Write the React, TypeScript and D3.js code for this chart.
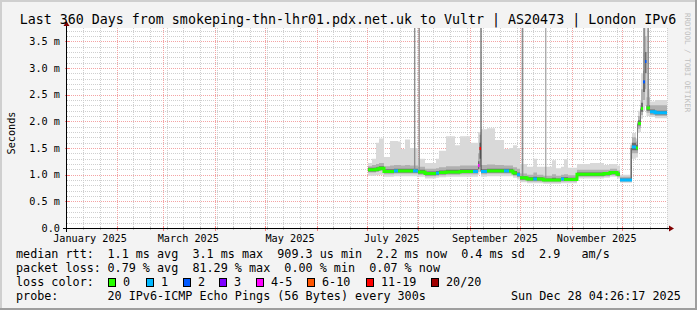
import React from "react";
import * as d3 from "d3";

const W = 697;
const H = 310;
const startTime = Date.UTC(2025, 0, 2, 4, 26, 17);
const endTime = Date.UTC(2025, 11, 28, 4, 26, 17);

const titleText = "Last 360 Days from smokeping-thn-lhr01.pdx.net.uk to Vultr | AS20473 | London IPv6";
const yAxisTitle = "Seconds";
const watermark = "RRDTOOL / TOBI OETIKER";

const yMajorTicks = [0, 0.5, 1.0, 1.5, 2.0, 2.5, 3.0, 3.5];
const yMax = 3.75;

// segment start times (UTC), value holds until next start
const segStart = [
  "2025-07-01T19:00", "2025-07-04T04:00", "2025-07-06T14:00", "2025-07-08T09:00", "2025-07-11T09:00",
  "2025-07-15T00:00", "2025-07-17T09:00", "2025-07-19T19:00", "2025-07-21T14:00", "2025-07-24T00:00",
  "2025-07-27T00:00", "2025-07-28T19:00", "2025-07-31T19:00", "2025-08-05T00:00", "2025-08-11T14:00",
  "2025-08-13T09:00", "2025-08-17T14:00", "2025-08-23T00:00", "2025-08-26T00:00", "2025-09-01T00:00",
  "2025-09-02T19:00", "2025-09-05T19:00", "2025-09-06T16:00", "2025-09-07T14:00", "2025-09-11T04:00",
  "2025-09-16T00:00", "2025-09-21T09:00", "2025-09-24T09:00", "2025-09-26T19:00", "2025-09-29T04:00",
  "2025-10-01T00:00", "2025-10-05T04:00", "2025-10-09T00:00", "2025-10-11T04:00", "2025-10-15T00:00",
  "2025-10-20T04:00", "2025-10-22T14:00", "2025-10-25T14:00", "2025-10-27T09:00", "2025-10-29T19:00",
  "2025-11-04T04:00", "2025-11-12T00:00", "2025-11-20T09:00", "2025-11-24T00:00", "2025-11-28T04:00",
  "2025-11-30T00:00", "2025-12-06T08:00", "2025-12-07T04:00", "2025-12-09T14:00", "2025-12-10T08:00",
  "2025-12-10T19:00", "2025-12-12T02:00", "2025-12-12T14:00", "2025-12-13T19:00", "2025-12-15T00:00",
  "2025-12-15T21:00", "2025-12-18T00:00", "2025-12-21T00:00",
];
// median rtt (ms)
const median = [
  1.09, 1.09, 1.10, 1.12, 1.06, 1.06, 1.07, 1.07, 1.07, 1.07,
  1.07, 1.07, 1.05, 1.02, 1.03, 1.04, 1.05, 1.05, 1.06, 1.06,
  1.06, 1.17, 1.49, 1.06, 1.07, 1.07, 1.07, 1.07, 1.03, 1.00,
  0.94, 0.92, 0.92, 0.92, 0.90, 0.90, 0.90, 0.92, 0.91, 0.91,
  1.01, 1.01, 1.02, 1.04, 1.01, 0.90, 0.90, 1.52, 1.50, 1.50,
  1.96, 1.96, 2.24, 2.74, 3.12, 2.25, 2.18, 2.16,
];
// loss bucket index (0:"0",1:"1",2:"2",3:"3",4:"4-5",5:"6-10",6:"11-19",7:"20/20")
const lossBucket = [
  0, 0, 0, 0, 0, 0, 1, 0, 0, 0,
  0, 1, 0, 0, 1, 0, 0, 0, 0, 0,
  1, 4, 6, 1, 0, 0, 1, 0, 0, 1,
  0, 0, 1, 0, 0, 0, 0, 1, 0, 0,
  0, 0, 0, 0, 0, 1, 1, 1, 0, 0,
  0, 0, 0, 2, 2, 0, 1, 1,
];
// smoke: outer low / high, middle band, core band (ms)
const smokeLo = [
  0.98, 0.98, 0.99, 1.00, 0.96, 0.96, 0.97, 0.97, 0.97, 0.97,
  0.97, 0.97, 0.96, 0.93, 0.94, 0.95, 0.96, 0.96, 0.96, 0.96,
  0.96, 1.00, 1.05, 0.96, 0.97, 0.97, 0.97, 0.97, 0.94, 0.91,
  0.86, 0.84, 0.84, 0.84, 0.83, 0.83, 0.83, 0.84, 0.84, 0.84,
  0.93, 0.93, 0.94, 0.96, 0.93, 0.85, 0.85, 1.30, 1.32, 1.32,
  1.78, 1.80, 2.05, 2.20, 2.30, 2.10, 2.08, 2.06,
];
const midLo = [
  1.04, 1.04, 1.05, 1.07, 1.01, 1.01, 1.02, 1.02, 1.02, 1.02,
  1.02, 1.02, 1.00, 0.97, 0.98, 0.99, 1.00, 1.00, 1.01, 1.01,
  1.01, 1.05, 1.15, 1.01, 1.02, 1.02, 1.02, 1.02, 0.98, 0.95,
  0.89, 0.87, 0.87, 0.87, 0.86, 0.86, 0.86, 0.87, 0.87, 0.87,
  0.96, 0.96, 0.97, 0.99, 0.96, 0.87, 0.87, 1.40, 1.40, 1.40,
  1.86, 1.88, 2.12, 2.40, 2.60, 2.16, 2.12, 2.10,
];
const coreLo = [
  1.06, 1.06, 1.07, 1.09, 1.03, 1.03, 1.04, 1.04, 1.04, 1.04,
  1.04, 1.04, 1.02, 0.99, 1.00, 1.01, 1.02, 1.02, 1.03, 1.03,
  1.03, 1.10, 1.30, 1.03, 1.04, 1.04, 1.04, 1.04, 1.00, 0.97,
  0.91, 0.89, 0.89, 0.89, 0.88, 0.88, 0.88, 0.89, 0.89, 0.89,
  0.98, 0.98, 0.99, 1.01, 0.98, 0.88, 0.88, 1.46, 1.46, 1.46,
  1.92, 1.92, 2.18, 2.55, 2.90, 2.20, 2.15, 2.13,
];
const coreHi = [
  1.13, 1.13, 1.14, 1.16, 1.10, 1.10, 1.11, 1.11, 1.11, 1.11,
  1.11, 1.11, 1.09, 1.06, 1.07, 1.08, 1.09, 1.09, 1.10, 1.10,
  1.10, 1.25, 1.60, 1.10, 1.11, 1.11, 1.11, 1.11, 1.07, 1.04,
  0.97, 0.95, 0.96, 0.95, 0.93, 0.94, 0.93, 0.95, 0.95, 0.94,
  1.04, 1.04, 1.05, 1.07, 1.04, 0.93, 1.50, 1.60, 1.56, 1.96,
  2.02, 2.24, 2.35, 2.95, 3.30, 2.30, 2.22, 2.20,
];
const midHi = [
  1.16, 1.18, 1.20, 1.22, 1.16, 1.17, 1.18, 1.18, 1.17, 1.18,
  1.17, 1.17, 1.15, 1.11, 1.12, 1.14, 1.16, 1.16, 1.17, 1.17,
  1.17, 1.40, 1.75, 1.18, 1.19, 1.18, 1.17, 1.17, 1.14, 1.11,
  1.02, 1.00, 1.04, 1.00, 0.98, 1.01, 0.98, 1.00, 1.01, 0.99,
  1.09, 1.09, 1.09, 1.11, 1.08, 0.96, 1.55, 1.70, 1.62, 2.00,
  2.10, 2.30, 2.60, 3.30, 3.60, 2.45, 2.30, 2.30,
];
const smokeHi = [
  1.22, 1.30, 1.60, 1.68, 1.33, 1.63, 1.63, 1.62, 1.48, 1.66,
  1.50, 1.50, 1.30, 1.22, 1.30, 1.45, 1.72, 1.55, 1.72, 1.60,
  1.60, 1.80, 1.80, 1.85, 1.87, 1.65, 1.48, 1.50, 1.55, 1.50,
  1.20, 1.15, 1.30, 1.15, 1.15, 1.27, 1.12, 1.15, 1.29, 1.13,
  1.20, 1.22, 1.18, 1.20, 1.17, 1.00, 1.60, 1.78, 1.68, 2.00,
  2.20, 2.40, 2.90, 3.75, 3.75, 2.60, 2.37, 2.40,
];

// isolated very high outliers (max ping off the chart)
const spikeTime = [
  "2025-07-29T09:00", "2025-08-01T02:00", "2025-09-07T07:00", "2025-10-02T00:00",
  "2025-10-16T04:00", "2025-12-13T23:00", "2025-12-16T09:00",
];
const spikeHours = [20, 20, 12, 24, 12, 24, 24];
const spikeBase = [1.07, 1.05, 1.06, 0.94, 0.90, 2.74, 2.25];
const spikeLoss = [0, 0, 11, 0, 0, 0, 0];

const lossLabels = ["0", "1", "2", "3", "4-5", "6-10", "11-19", "20/20"];
const lossColors = ["#26ff00", "#00b8ff", "#0059ff", "#7e00ff", "#ff00ff", "#ff5500", "#ff0000", "#a00000"];

const legendRows = [
  ["median rtt:", "1.1 ms avg  3.1 ms max  909.3 us min  2.2 ms now  0.4 ms sd  2.9   am/s"],
  ["packet loss:", "0.79 % avg  81.29 % max  0.00 % min  0.07 % now"],
];
const probeText = "20 IPv6-ICMP Echo Pings (56 Bytes) every 300s";
const stampText = "Sun Dec 28 04:26:17 2025";

const FONT = "DejaVu Sans Mono";

function parseUtc(s: string): Date {
  const [d, t] = s.split("T");
  const [yy, mm, dd] = d.split("-").map(Number);
  const [hh, mi] = (t || "00:00").split(":").map(Number);
  return new Date(Date.UTC(yy, mm - 1, dd, hh, mi));
}

export default function App() {
  const X0 = 67, X1 = 667, Y0 = 228, Y1 = 28;
  const x = d3.scaleUtc().domain([new Date(startTime), new Date(endTime)]).range([X0, X1]);
  const y = d3.scaleLinear().domain([0, yMax]).range([Y0, Y1]);
  const px = (v: number) => Math.round(v) + 0.5;

  const starts = segStart.map(parseUtc);
  const ends = starts.map((d, i) => (i < starts.length - 1 ? starts[i + 1] : new Date(endTime)));

  type P = { t: Date; lo: number; hi: number };
  const bandPoints = (lo: number[], hi: number[]): P[] => {
    const pts: P[] = [];
    starts.forEach((s, i) => {
      pts.push({ t: s, lo: lo[i], hi: hi[i] });
      pts.push({ t: ends[i], lo: lo[i], hi: hi[i] });
    });
    return pts;
  };
  const area = d3
    .area<P>()
    .x((d) => x(d.t))
    .y0((d) => y(d.lo))
    .y1((d) => y(Math.min(d.hi, yMax)));

  // grid
  const yMinor = d3.range(1, 38).map((k) => k * 0.1).filter((v) => Math.abs(v * 2 - Math.round(v * 2)) > 1e-6 && v < yMax);
  const yMajor = yMajorTicks.filter((v) => v > 0);
  const monthStarts = d3.utcMonth.range(new Date(startTime), new Date(endTime));
  const dayStart = d3.utcDay.floor(new Date(startTime));
  const minorLines = d3
    .range(1, 40)
    .map((k) => d3.utcDay.offset(dayStart, 10 * k))
    .filter((d) => +d > startTime && +d < endTime)
    .filter((d) => !monthStarts.some((m) => +m === +d));
  const labelMonths = d3.utcMonth.every(2)!.range(new Date(Date.UTC(2025, 0, 1)), new Date(endTime));
  const monthFmt = d3.utcFormat("%B %Y");

  // median line points per loss colour
  type M = { t: Date; v: number; c: number };
  const medianPaths: { d: string; color: string }[] = [];
  let run: M[] = [];
  const line = d3.line<M>().x((d) => x(d.t)).y((d) => y(d.v));
  const flush = () => {
    if (run.length) medianPaths.push({ d: line(run) || "", color: lossColors[run[0].c] });
    run = [];
  };
  for (let i = 0; i < starts.length; i++) {
    const sameRun = i > 0 && lossBucket[i - 1] === lossBucket[i] && Math.abs(median[i - 1] - median[i]) < 0.15;
    if (!sameRun) flush();
    run.push({ t: starts[i], v: median[i], c: lossBucket[i] }, { t: ends[i], v: median[i], c: lossBucket[i] });
  }
  flush();

  const yLabel = (v: number) => (v === 0 ? "0.0" : v.toFixed(1) + " m");

  const legendX = 16;
  const legendValX = 107.5;
  const rowY = [258, 272, 286, 300];
  const boxX = [108, 146, 183, 219, 256, 307, 366, 431];

  return (
    <svg width={W} height={H} viewBox={`0 0 ${W} ${H}`} style={{ display: "block", position: "absolute", left: 0, top: 0 }}>
      <rect x={0} y={0} width={W} height={H} fill="#f3f3f3" />
      <rect x={0} y={0} width={W} height={2} fill="#cfcfcf" />
      <rect x={0} y={0} width={2} height={H} fill="#cfcfcf" />
      <rect x={0} y={H - 2} width={W} height={2} fill="#9e9e9e" />
      <rect x={W - 2} y={0} width={2} height={H} fill="#9e9e9e" />

      <rect x={X0} y={Y1} width={X1 - X0} height={Y0 - Y1} fill="#ffffff" />

      {/* grid minor */}
      <g stroke="#cfcfcf" strokeWidth={1} strokeDasharray="1,1" shapeRendering="crispEdges">
        {yMinor.map((v, i) => (
          <line key={"ym" + i} x1={X0} x2={X1} y1={px(y(v))} y2={px(y(v))} />
        ))}
        {minorLines.map((d, i) => (
          <line key={"xm" + i} x1={px(x(d))} x2={px(x(d))} y1={Y1} y2={Y0} />
        ))}
      </g>
      <g stroke="#f4a3a3" strokeWidth={1} strokeDasharray="1,1" shapeRendering="crispEdges">
        {yMajor.map((v, i) => (
          <line key={"yM" + i} x1={X0} x2={X1} y1={px(y(v))} y2={px(y(v))} />
        ))}
        {monthStarts.map((d, i) => (
          <line key={"xM" + i} x1={px(x(d))} x2={px(x(d))} y1={Y1} y2={Y0} />
        ))}
      </g>

      {/* smoke */}
      <path d={area(bandPoints(smokeLo, smokeHi)) || ""} fill="#d9d9d9" />
      <path d={area(bandPoints(midLo, midHi)) || ""} fill="#b0b0b0" />
      <path d={area(bandPoints(coreLo, coreHi)) || ""} fill="#6c6c6c" />
      {spikeTime.map((s, i) => {
        const t = parseUtc(s);
        const t2 = new Date(+t + spikeHours[i] * 3600000);
        return (
          <rect
            key={"sp" + i}
            x={x(t)}
            width={Math.max(1, x(t2) - x(t))}
            y={Y1}
            height={y(spikeBase[i]) - Y1}
            fill={spikeLoss[i] > 0 ? "#3a3a3a" : "#8e8e8e"}
          />
        );
      })}

      {/* median */}
      {medianPaths.map((p, i) => (
        <path key={"md" + i} d={p.d} fill="none" stroke={p.color} strokeWidth={3} />
      ))}

      {/* axes */}
      <g shapeRendering="crispEdges">
        {yMinor.map((v, i) => (
          <line key={"ytm" + i} x1={X0 - 1} x2={X0 + 1} y1={px(y(v))} y2={px(y(v))} stroke="#c0c0c0" />
        ))}
        {yMajorTicks.map((v, i) => (
          <line key={"ytM" + i} x1={X0 - 2} x2={X0 + 3} y1={px(y(v))} y2={px(y(v))} stroke="#ff8080" />
        ))}
        {minorLines.map((d, i) => (
          <line key={"xtm" + i} x1={px(x(d))} x2={px(x(d))} y1={Y0 - 1} y2={Y0 + 2} stroke="#c0c0c0" />
        ))}
        {monthStarts.map((d, i) => (
          <line key={"xtM" + i} x1={px(x(d))} x2={px(x(d))} y1={Y0 - 2} y2={Y0 + 3} stroke="#ff8080" />
        ))}
        <line x1={X0 - 4} x2={X1 + 4} y1={Y0 + 0.5} y2={Y0 + 0.5} stroke="#000" />
        <line x1={X0 - 0.5} x2={X0 - 0.5} y1={Y0 + 4} y2={Y1 - 4} stroke="#000" />
      </g>
      <polygon points={`${X1 + 7},${Y0 + 0.5} ${X1 + 2},${Y0 - 2.5} ${X1 + 2},${Y0 + 3.5}`} fill="#800000" />
      <polygon points={`${X0 - 0.5},${Y1 - 7} ${X0 - 3.5},${Y1 - 2} ${X0 + 2.5},${Y1 - 2}`} fill="#800000" />

      {/* y labels */}
      <g fontFamily={FONT} fontSize={10.2} fill="#000" textAnchor="end">
        {yMajorTicks.map((v, i) => (
          <text key={"yl" + i} x={60} y={y(v) + 3.6}>
            {yLabel(v)}
          </text>
        ))}
      </g>
      {/* x labels */}
      <g fontFamily={FONT} fontSize={10.2} fill="#000" textAnchor="middle">
        {labelMonths.map((m, i) => (
          <text key={"xl" + i} x={x(d3.utcDay.offset(m, 15))} y={241.5}>
            {monthFmt(m)}
          </text>
        ))}
      </g>

      <text x={14.5} y={133} transform="rotate(-90 14.5 133)" fontFamily={FONT} fontSize={10.2} textAnchor="middle" fill="#000">
        {yAxisTitle}
      </text>
      <text x={348} y={24} fontFamily={FONT} fontSize={13.3} textAnchor="middle" fill="#000">
        {titleText}
      </text>
      <text x={685} y={13} transform="rotate(90 685 13)" fontFamily={FONT} fontSize={7.5} fill="#c0c0c0">
        {watermark}
      </text>

      {/* legend */}
      <g fontFamily={FONT} fontSize={11.75} fill="#000" style={{ whiteSpace: "pre" }}>
        {legendRows.map((r, i) => (
          <g key={"lr" + i}>
            <text x={legendX} y={rowY[i]}>{r[0]}</text>
            <text x={legendValX} y={rowY[i]} xmlSpace="preserve">{r[1]}</text>
          </g>
        ))}
        <text x={legendX} y={rowY[2]}>loss color:</text>
        {lossLabels.map((l, i) => (
          <g key={"lc" + i}>
            <rect x={boxX[i] + 0.5} y={rowY[2] - 7.5} width={7} height={8} fill={lossColors[i]} stroke="#000" strokeWidth={1} />
            <text x={boxX[i] + 15} y={rowY[2]}>{l}</text>
          </g>
        ))}
        <text x={legendX} y={rowY[3]}>probe:</text>
        <text x={legendValX} y={rowY[3]}>{probeText}</text>
        <text x={511} y={rowY[3]}>{stampText}</text>
      </g>
    </svg>
  );
}
